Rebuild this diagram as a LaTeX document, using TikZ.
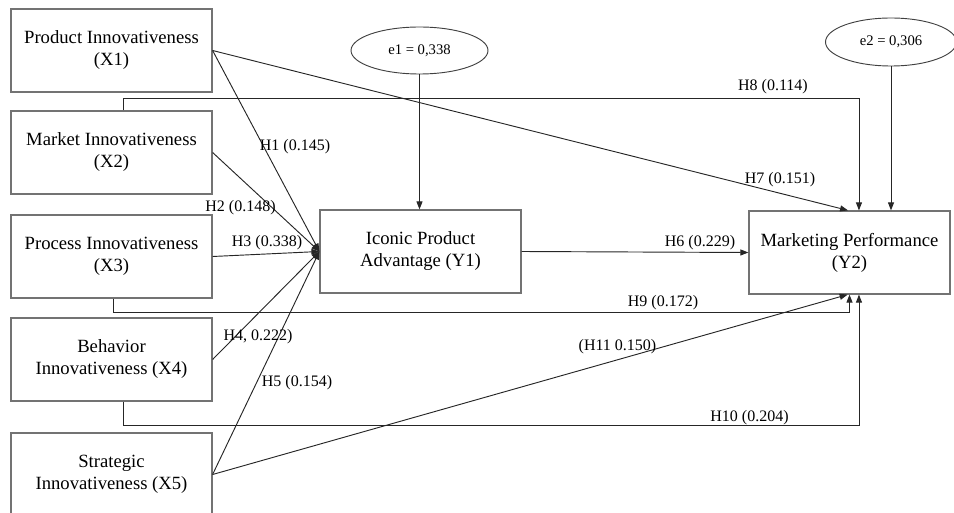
\documentclass[tikz,border=0pt]{standalone}
\usepackage{fontspec}
\setmainfont{Liberation Serif}
\usepackage{tikz}
\usetikzlibrary{arrows.meta}
\usetikzlibrary{shapes.geometric}

\tikzset{
  construct/.style={draw=black!55, line width=0.9pt, inner sep=0pt,
    minimum width=150.75pt, minimum height=62.25pt, align=center,
    font=\fontsize{14}{16.5}\selectfont},
  residual/.style={ellipse, draw=black!75, line width=0.7pt, inner sep=0pt,
    font=\fontsize{11}{13}\selectfont},
  hpath/.style={draw=black!85, line width=0.7pt,
    -{Triangle[length=6pt,width=4.5pt]}},
  hyp/.style={inner sep=0pt, font=\fontsize{12}{14}\selectfont}
}

\begin{document}
\begin{tikzpicture}[x=0.75pt, y=-0.75pt]

\useasboundingbox (0,0) rectangle (954,513);
\clip (0,0) rectangle (954,513);

\node[construct] (X1) at (111.5, 50.5) {Product Innovativeness\\(X1)};
\node[construct] (X2) at (111.5,152.5) {Market Innovativeness\\(X2)};
\node[construct] (X3) at (111.5,256.5) {Process Innovativeness\\(X3)};
\node[construct] (X4) at (111.5,359.5) {Behavior\\Innovativeness (X4)};
\node[construct] (X5) at (111.5,474.5) {Strategic\\Innovativeness (X5)};

\node[construct] (Y1) at (420.5,251.5) {Iconic Product\\Advantage (Y1)};
\node[construct] (Y2) at (849.5,252.5) {Marketing Performance\\(Y2)};

\node[residual, minimum width=102.75pt, minimum height=35.25pt] (e1) at (419.5,50.5) {e1 = 0,338};
\node[residual, minimum width=98.25pt, minimum height=36pt] (e2) at (891,42) {e2 = 0,306};

\draw[hpath] (e1.south) -- (e1.south |- Y1.north);
\draw[hpath] (e2.south) -- (e2.south |- Y2.north);

\draw[hpath] (X1.east) -- (Y1.west);
\draw[hpath] (X2.east) -- (Y1.west);
\draw[hpath] (X3.east) -- (Y1.west);
\draw[hpath] (X4.east) -- (Y1.west);
\draw[hpath] (X5.east) -- (Y1.west);
\draw[hpath] (Y1.east) -- (Y2.west);

\draw[hpath] (X1.east) -- ([xshift=-1.1pt]Y2.north);
\draw[hpath] ([xshift=8.6pt]X2.north) -- ++(0,-12) -| ([xshift=7.1pt]Y2.north);
\draw[hpath] ([xshift=1.1pt]X3.south) -- ++(0,14) -| (Y2.south);
\draw[hpath] ([xshift=8.6pt]X4.south) -- ++(0,24) -| ([xshift=7.1pt]Y2.south);
\draw[hpath] (X5.east) -- ([xshift=-1.4pt]Y2.south);

\node[hyp] (h1) at (295,147) {H1 (0.145)};
\node[hyp] (h2) at (240.5,208) {H2 (0.148)};
\node[hyp] (h3) at (267,243) {H3 (0.338)};
\node[hyp] (h4) at (258,337) {H4, 0.222)};
\node[hyp] (h5) at (297,383) {H5 (0.154)};
\node[hyp] (h6) at (700,243) {H6 (0.229)};
\node[hyp] (h7) at (780,180) {H7 (0.151)};
\node[hyp] (h8) at (773,87) {H8 (0.114)};
\node[hyp] (h9) at (663,303) {H9 (0.172)};
\node[hyp] (h10) at (749.5,418) {H10 (0.204)};
\node[hyp] (h11) at (617.5,347) {(H11 0.150)};

\end{tikzpicture}
\end{document}
